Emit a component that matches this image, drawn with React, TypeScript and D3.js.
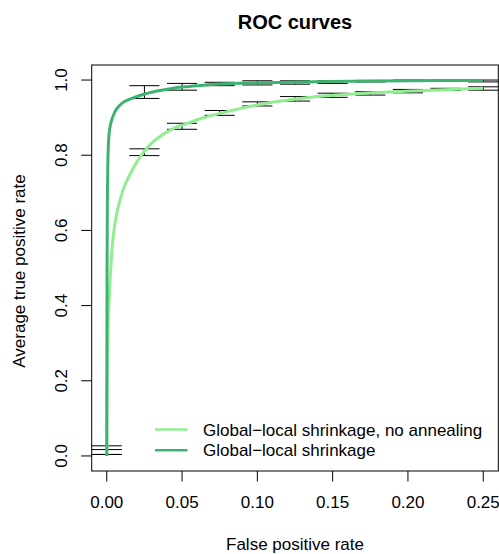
import React from "react";
import * as d3 from "d3";

const fprDark = [0, 0.0002, 0.0004, 0.0007, 0.001, 0.0015, 0.0023, 0.0033, 0.0045, 0.006, 0.008, 0.01, 0.013, 0.0166, 0.0254, 0.0365, 0.045, 0.055, 0.066, 0.08, 0.104, 0.13, 0.16, 0.2, 0.25];
const tprDark = [0, 0.5, 0.68, 0.775, 0.82, 0.855, 0.878, 0.894, 0.907, 0.92, 0.93, 0.938, 0.945, 0.951, 0.963, 0.973, 0.979, 0.983, 0.987, 0.99, 0.993, 0.995, 0.997, 0.998, 0.999];

const fprLight = [0, 0.0001, 0.0003, 0.0006, 0.0011, 0.002, 0.0033, 0.0045, 0.006, 0.0082, 0.0122, 0.0166, 0.023, 0.032, 0.044, 0.053, 0.062, 0.072, 0.082, 0.095, 0.11, 0.137, 0.17, 0.215, 0.25];
const tprLight = [0, 0.12, 0.22, 0.3, 0.371, 0.451, 0.539, 0.59, 0.632, 0.672, 0.722, 0.758, 0.8, 0.84, 0.871, 0.884, 0.897, 0.908, 0.918, 0.93, 0.941, 0.955, 0.965, 0.973, 0.978];

const barX = [0, 0.025, 0.05, 0.075, 0.1, 0.125, 0.15, 0.175, 0.2, 0.225, 0.25];
const darkLo = [0.004, 0.951, 0.973, 0.985, 0.987, 0.989, 0.991, 0.995, 0.996, 0.996, 0.995];
const darkHi = [0.017, 0.985, 0.991, 0.994, 0.998, 0.998, 0.998, 0.999, 1.0, 1.0, 1.0];
const lightLo = [0.004, 0.799, 0.869, 0.906, 0.931, 0.944, 0.954, 0.96, 0.966, 0.972, 0.973];
const lightHi = [0.027, 0.817, 0.885, 0.919, 0.942, 0.956, 0.965, 0.969, 0.975, 0.978, 0.982];
const capHalf = 0.01;

const xTicks = [0, 0.05, 0.1, 0.15, 0.2, 0.25];
const yTicks = [0, 0.2, 0.4, 0.6, 0.8, 1.0];

const seriesNames = ["Global\u2212local shrinkage, no annealing", "Global\u2212local shrinkage"];
const seriesColors = ["#90EE90", "#3CB371"];

const W = 499;
const H = 554;
const left = 91.7, right = 498.3, top = 65, bottom = 471;
const FONT = "'Liberation Sans', Arial, Helvetica, sans-serif";

export default function App() {
  const x = d3.scaleLinear().domain([-0.01, 0.26]).range([left, right]);
  const y = d3.scaleLinear().domain([-0.04, 1.04]).range([bottom, top]);

  const line = d3
    .line<[number, number]>()
    .x((d) => x(d[0]))
    .y((d) => y(d[1]))
    .curve(d3.curveCatmullRom.alpha(0.5));

  const darkPts: [number, number][] = fprDark.map((f, i) => [f, tprDark[i]]);
  const lightPts: [number, number][] = fprLight.map((f, i) => [f, tprLight[i]]);

  const bars = (lo: number[], hi: number[], key: string) =>
    barX.map((bx, i) => (
      <g key={key + i} stroke="#000" strokeWidth={1} fill="none">
        <line x1={x(bx)} x2={x(bx)} y1={y(lo[i])} y2={y(hi[i])} />
        <line x1={x(bx - capHalf)} x2={x(bx + capHalf)} y1={y(lo[i])} y2={y(lo[i])} />
        <line x1={x(bx - capHalf)} x2={x(bx + capHalf)} y1={y(hi[i])} y2={y(hi[i])} />
      </g>
    ));

  return (
    <svg
      width={W}
      height={H}
      style={{ position: "absolute", left: 0, top: 0, background: "#fff" }}
      fontFamily={FONT}
    >
      <rect x={0} y={0} width={W} height={H} fill="#fff" />
      <text x={(left + right) / 2} y={29} textAnchor="middle" fontWeight="bold" fontSize={20}>
        ROC curves
      </text>

      {bars(darkLo, darkHi, "d")}
      {bars(lightLo, lightHi, "l")}

      <defs>
        <clipPath id="plotclip">
          <rect x={left} y={top} width={right - left} height={bottom - top} />
        </clipPath>
      </defs>
      <g clipPath="url(#plotclip)">
        <path d={line(lightPts) || ""} fill="none" stroke={seriesColors[0]} strokeWidth={3} />
        <path d={line(darkPts) || ""} fill="none" stroke={seriesColors[1]} strokeWidth={3} />
      </g>

      <rect x={left} y={top} width={right - left} height={bottom - top} fill="none" stroke="#000" strokeWidth={1} />

      <g stroke="#000" strokeWidth={1}>
        {xTicks.map((t) => (
          <line key={"xt" + t} x1={x(t)} x2={x(t)} y1={bottom} y2={bottom + 10.5} />
        ))}
        {yTicks.map((t) => (
          <line key={"yt" + t} x1={left - 10.5} x2={left} y1={y(t)} y2={y(t)} />
        ))}
      </g>
      {xTicks.map((t) => (
        <text key={"xl" + t} x={x(t)} y={508} textAnchor="middle" fontSize={17}>
          {d3.format(".2f")(t)}
        </text>
      ))}
      {yTicks.map((t) => (
        <text
          key={"yl" + t}
          transform={`translate(67,${y(t)}) rotate(-90)`}
          textAnchor="middle"
          fontSize={17}
        >
          {d3.format(".1f")(t)}
        </text>
      ))}
      <text x={(left + right) / 2} y={550} textAnchor="middle" fontSize={17}>
        False positive rate
      </text>
      <text transform={`translate(25,${(top + bottom) / 2 + 3}) rotate(-90)`} textAnchor="middle" fontSize={17}>
        Average true positive rate
      </text>

      {seriesNames.map((n, i) => (
        <g key={"lg" + i}>
          <line x1={155} x2={187.5} y1={429.5 + i * 20.7} y2={429.5 + i * 20.7} stroke={seriesColors[i]} strokeWidth={2.5} />
          <text x={203} y={429.5 + i * 20.7 + 6} fontSize={17}>
            {n}
          </text>
        </g>
      ))}
    </svg>
  );
}
